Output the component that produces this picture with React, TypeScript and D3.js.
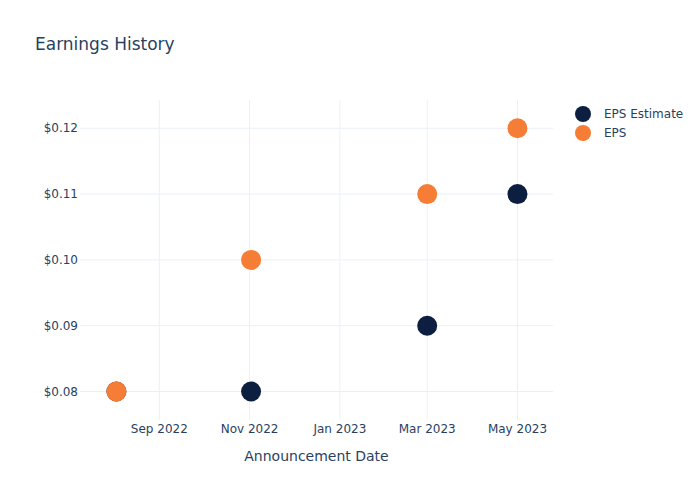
import React from "react";
import * as d3 from "d3";

const dates = ["2022-08-03", "2022-11-02", "2023-03-01", "2023-05-01"];
const epsEstimate = [0.08, 0.08, 0.09, 0.11];
const eps = [0.08, 0.1, 0.11, 0.12];
const yTicks = [0.08, 0.09, 0.1, 0.11, 0.12];
const xTickDates = ["2022-09-01", "2022-11-01", "2023-01-01", "2023-03-01", "2023-05-01"];
const seriesNames = ["EPS Estimate", "EPS"];
const colors = ["#0c1f40", "#f57d35"];

const W = 700, H = 500;
const L = 80, R = 553, T = 100, B = 420;
const FONT = "'DejaVu Sans', Verdana, sans-serif";
const TXT = "#2a3f5f";

export default function App() {
  const x = d3.scaleUtc()
    .domain([new Date(Date.UTC(2022, 6, 9, 10)), new Date(Date.UTC(2023, 4, 25))])
    .range([L, R]);
  const y = d3.scaleLinear().domain([0.07567, 0.1243]).range([B, T]);
  const fmtX = d3.utcFormat("%b %Y");
  const parse = (s: string) => new Date(s + "T00:00:00Z");
  const series = [epsEstimate, eps];

  return (
    <svg width={W} height={H} style={{ position: "absolute", left: 0, top: 0, background: "#fff" }} fontFamily={FONT}>
      <rect x={0} y={0} width={W} height={H} fill="#fff" />
      {xTickDates.map((d) => (
        <line key={d} x1={x(parse(d))} x2={x(parse(d))} y1={T} y2={B} stroke="#ebf0f8" strokeWidth={1} />
      ))}
      {yTicks.map((v) => (
        <line key={v} x1={L} x2={R} y1={y(v)} y2={y(v)} stroke="#ebf0f8" strokeWidth={1} />
      ))}
      {xTickDates.map((d) => (
        <text key={d} x={x(parse(d))} y={433} textAnchor="middle" fontSize={12} fill={TXT}>{fmtX(parse(d))}</text>
      ))}
      {yTicks.map((v) => (
        <text key={v} x={78} y={y(v) + 4} textAnchor="end" fontSize={12} fill={TXT}>{"$" + v.toFixed(2)}</text>
      ))}
      <text x={(L + R) / 2} y={461} textAnchor="middle" fontSize={14} fill={TXT}>Announcement Date</text>
      <text x={35} y={50} fontSize={17} fill={TXT}>Earnings History</text>
      {series.map((vals, si) => (
        <g key={si}>
          {vals.map((v, i) => (
            <circle key={i} cx={x(parse(dates[i]))} cy={y(v)} r={10} fill={colors[si]} />
          ))}
        </g>
      ))}
      {seriesNames.map((n, i) => (
        <g key={n}>
          <circle cx={583} cy={114 + i * 19} r={8} fill={colors[i]} />
          <text x={604} y={118 + i * 19} fontSize={12} fill={TXT}>{n}</text>
        </g>
      ))}
    </svg>
  );
}
